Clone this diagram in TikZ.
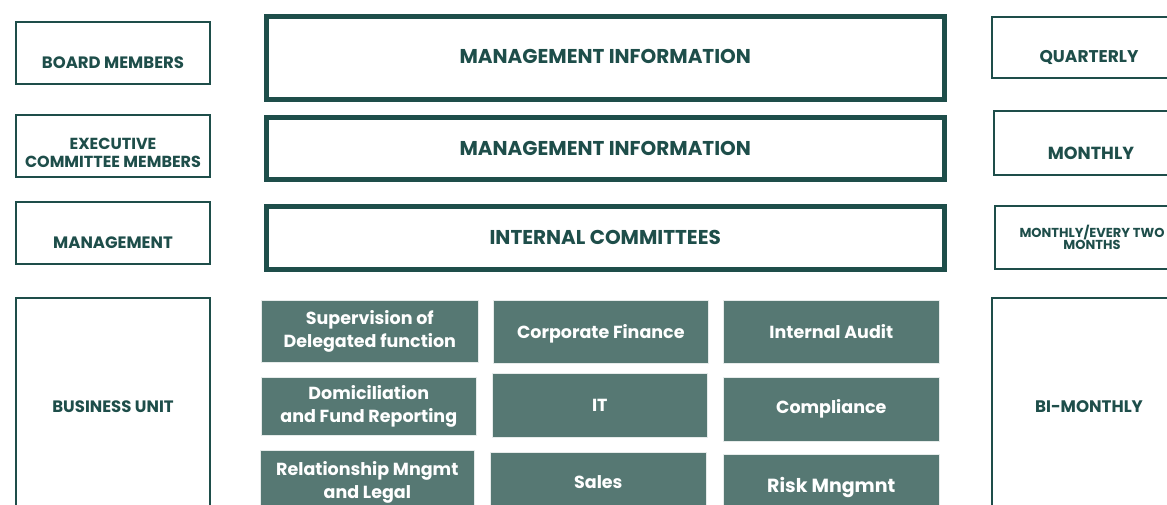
\documentclass[tikz,border=0pt]{standalone}
\usepackage{fontspec}
\setmainfont{Poppins}
\definecolor{frame}{HTML}{1E4E4A}
\definecolor{tile}{HTML}{567873}
\begin{document}
\begin{tikzpicture}[x=1pt,y=-1pt,
  outline/.style={draw=frame,line width=2pt,fill=white,anchor=north west,inner sep=0pt},
  heavy/.style={draw=frame,line width=4.5pt,fill=white,anchor=north west,inner sep=0pt},
  tilebox/.style={fill=tile,draw=white!85!tile,line width=0.6pt,anchor=north west,inner sep=0pt},
  lbl/.style={text=frame,font=\bfseries\fontsize{16.5}{18}\selectfont,align=center,inner sep=0pt},
  midlbl/.style={text=frame,font=\bfseries\fontsize{20}{22}\selectfont,align=center,inner sep=0pt},
  tilelbl/.style={text=white,font=\bfseries\fontsize{17.5}{23}\selectfont,align=center,inner sep=0pt}]
\useasboundingbox (0,0) rectangle (1167,504);
\clip (0,0) rectangle (1167,504);
% left column: audience
\node[outline,minimum width=194pt,minimum height=62pt] (board) at (15,21) {};
\node[outline,minimum width=194pt,minimum height=62pt] (exec) at (15,114) {};
\node[outline,minimum width=194pt,minimum height=62pt] (mgmt) at (15,201) {};
\node[outline,minimum width=194pt,minimum height=212pt] (bu) at (15,297) {};
\node[lbl] (boardT) at ([yshift=-10pt]board.center) {BOARD MEMBERS};
\node[lbl,font=\bfseries\fontsize{16}{18}\selectfont] (execT) at ([yshift=-7pt]exec.center) {EXECUTIVE\\COMMITTEE MEMBERS};
\node[lbl] (mgmtT) at ([yshift=-10pt]mgmt.center) {MANAGEMENT};
\node[lbl] (buT) at ([yshift=-3pt]bu.center) {BUSINESS UNIT};
% middle column: reports
\node[heavy,minimum width=678pt,minimum height=83pt] (mi1) at (264,14) {};
\node[heavy,minimum width=678pt,minimum height=62pt] (mi2) at (264,115) {};
\node[heavy,minimum width=678pt,minimum height=63pt] (ic) at (264,204) {};
\node[midlbl] (mi1T) at ([yshift=1pt]mi1.center) {MANAGEMENT INFORMATION};
\node[midlbl] (mi2T) at (mi2.center) {MANAGEMENT INFORMATION};
\node[midlbl] (icT) at (ic.center) {INTERNAL COMMITTEES};
% right column: frequency
\node[outline,minimum width=194pt,minimum height=61pt] (q) at (991,16) {};
\node[outline,minimum width=194pt,minimum height=64pt] (m) at (993,110) {};
\node[outline,minimum width=194pt,minimum height=63pt] (m2) at (994,205) {};
\node[outline,minimum width=194pt,minimum height=212pt] (bim) at (991,297) {};
\node[lbl,font=\bfseries\fontsize{17}{18}\selectfont] (qT) at ([yshift=-10pt]q.center) {QUARTERLY};
\node[lbl,font=\bfseries\fontsize{17.5}{18}\selectfont] (mT) at ([yshift=-10pt]m.center) {MONTHLY};
\node[lbl,font=\bfseries\fontsize{13}{9}\selectfont] (m2T) at (m2.center) {MONTHLY/EVERY TWO\\MONTHS};
\node[lbl,font=\bfseries\fontsize{16.7}{18}\selectfont] (bimT) at ([yshift=-3pt]bim.center) {BI-MONTHLY};
% business unit functions
\node[tilebox,minimum width=217pt,minimum height=62pt] (sup) at (261,300) {};
\node[tilebox,minimum width=215pt,minimum height=63pt] (cf) at (493,300) {};
\node[tilebox,minimum width=216pt,minimum height=63pt] (ia) at (723,300) {};
\node[tilebox,minimum width=215pt,minimum height=58pt] (dom) at (261,377) {};
\node[tilebox,minimum width=215pt,minimum height=64pt] (it) at (492,373) {};
\node[tilebox,minimum width=216pt,minimum height=64pt] (comp) at (723,377) {};
\node[tilebox,minimum width=214pt,minimum height=62pt] (rel) at (260,450) {};
\node[tilebox,minimum width=216pt,minimum height=62pt] (sales) at (490,452) {};
\node[tilebox,minimum width=216pt,minimum height=62pt] (risk) at (723,454) {};
\node[tilelbl] (supT) at (sup.center) {Supervision of\\Delegated function};
\node[tilelbl] (cfT) at ([yshift=-2pt]cf.center) {Corporate Finance};
\node[tilelbl] (iaT) at (ia.center) {Internal Audit};
\node[tilelbl] (domT) at (dom.center) {Domiciliation\\and Fund Reporting};
\node[tilelbl] (itT) at (it.center) {IT};
\node[tilelbl] (compT) at (comp.center) {Compliance};
\node[tilelbl] (relT) at ([yshift=-1pt]rel.center) {Relationship Mngmt\\and Legal};
\node[tilelbl] (salesT) at ([yshift=1pt]sales.center) {Sales};
\node[tilelbl,font=\bfseries\fontsize{19}{23}\selectfont] (riskT) at ([yshift=-2pt]risk.center) {Risk Mngmnt};
\end{tikzpicture}
\end{document}
